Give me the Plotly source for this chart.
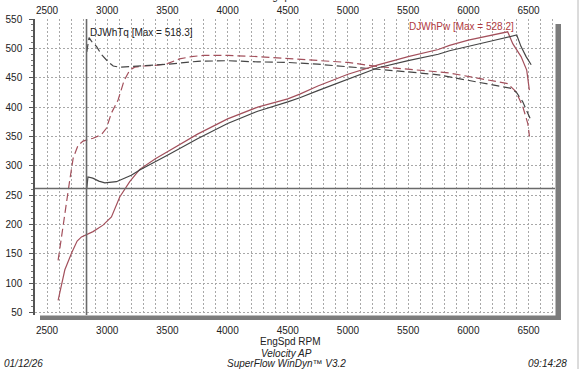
import plotly.graph_objects as go

# ---------------- data ----------------
rpm_tq_dark = [2830, 2849, 2870, 2912, 2950, 3008, 3050, 3100, 3200, 3350, 3500, 3750, 4000, 4250,
               4500, 4750, 5000, 5250, 5500, 5750, 6000, 6200, 6355, 6400, 6452, 6513]
tq_dark = [494, 518.3, 512, 503, 490, 477, 470, 468, 469, 471, 473, 478, 479, 477,
           476, 473, 469, 465, 460, 455, 446, 438, 432, 425, 409, 381]

rpm_tq_red = [2592, 2648, 2689, 2717, 2758, 2799, 2882, 2952, 2993, 3035, 3090, 3140, 3187, 3228,
              3300, 3400, 3500, 3600, 3700, 3800, 4000, 4250, 4500, 4750, 5000, 5250, 5500, 5750,
              5844, 6000, 6200, 6327, 6397, 6452, 6494, 6508]
tq_red = [139, 222, 276, 313, 335, 342, 347, 353, 364, 390, 412, 445, 463, 468,
          470, 471, 474, 482, 486, 488, 488, 486, 483, 480, 476, 469, 465, 460,
          458, 452, 445, 440, 426, 401, 372, 350]

rpm_pw_dark = [2830, 2840, 2880, 2930, 2980, 3076, 3200, 3270, 3500, 3750, 4000, 4250, 4500, 4600,
               4750, 5000, 5250, 5500, 5750, 5844, 6000, 6200, 6402, 6438, 6480, 6522]
pw_dark = [262, 281, 279, 274, 271, 273, 284, 293, 318, 346, 372, 393, 409, 416,
           428, 447, 467, 479, 490, 496, 503, 513, 522.8, 503, 486, 472]

rpm_pw_red = [2592, 2648, 2703, 2750, 2786, 2882, 2965, 3035, 3104, 3187, 3270, 3400, 3500, 3750,
              4000, 4250, 4500, 4600, 4750, 5000, 5250, 5500, 5750, 5844, 6000, 6200, 6327,
              6369, 6438, 6485, 6507]
pw_red = [71, 123, 151, 172, 179, 188, 199, 213, 247, 273, 294, 312, 324, 354,
          380, 400, 414, 422, 436, 456, 472, 486, 498, 505, 514, 523, 528.2,
          508, 486, 463, 429]

x_ticks = [2500, 3000, 3500, 4000, 4500, 5000, 5500, 6000, 6500]
y_ticks = [50, 100, 150, 200, 250, 300, 350, 400, 450, 500, 550]
cursor_rpm = 2828
cursor_val = 261.5

# ---------------- figure ----------------
DARK = "#454545"
RED = "#a3505c"
FONT = "Liberation Sans, Arial, sans-serif"

fig = go.Figure()
fig.add_trace(go.Scatter(x=rpm_tq_red, y=tq_red, mode="lines",
                         line=dict(color=RED, width=1.2, dash="8px,4px"), hoverinfo="skip"))
fig.add_trace(go.Scatter(x=rpm_tq_dark, y=tq_dark, mode="lines",
                         line=dict(color=DARK, width=1.2, dash="8px,4px"), hoverinfo="skip"))
fig.add_trace(go.Scatter(x=rpm_pw_red, y=pw_red, mode="lines",
                         line=dict(color=RED, width=1.2), hoverinfo="skip"))
fig.add_trace(go.Scatter(x=rpm_pw_dark, y=pw_dark, mode="lines",
                         line=dict(color=DARK, width=1.2), hoverinfo="skip"))
# invisible trace for top axis
fig.add_trace(go.Scatter(x=[x_ticks[0]], y=[y_ticks[0]], xaxis="x2", mode="markers",
                         marker=dict(opacity=0), hoverinfo="skip"))

# cursor lines
fig.add_vline(x=cursor_rpm, line=dict(color="#6a6a6a", width=1.6))
fig.add_hline(y=cursor_val, line=dict(color="#6a6a6a", width=1.6))

L, R, T, B = 35, 25, 19, 54
W, H = 580, 369
PW, PH = W - L - R, H - T - B


def px(xp):
    return (xp - L) / PW


def py(yp):
    return (H - B - yp) / PH


# drop shadow (right + bottom)
fig.add_shape(type="rect", xref="paper", yref="paper", x0=px(555.5), x1=px(561), y0=py(320), y1=py(24),
              fillcolor="#7c7c7c", line_width=0, layer="below")
fig.add_shape(type="rect", xref="paper", yref="paper", x0=px(40), x1=px(561), y0=py(320), y1=py(315.5),
              fillcolor="#7c7c7c", line_width=0, layer="below")
# window border at right
fig.add_shape(type="line", xref="paper", yref="paper", x0=px(578), x1=px(578), y0=py(369), y1=py(0),
              line=dict(color="#b8b8b8", width=1))

ann_font = dict(family=FONT, size=10, color="#222")
it_font = dict(family=FONT, size=10, color="#222", style="italic")
fig.add_annotation(text="DJWhTq [Max = 518.3]", xref="paper", yref="paper", x=px(88), y=py(32.5),
                   xanchor="left", yanchor="middle", showarrow=False, font=ann_font)
fig.add_annotation(text="DJWhPw [Max = 528.2]", xref="paper", yref="paper", x=px(407), y=py(26.5),
                   xanchor="left", yanchor="middle", showarrow=False,
                   font=dict(family=FONT, size=10, color="#b03a3f"))
fig.add_annotation(text="EngSpd RPM", xref="paper", yref="paper", x=px(290), y=py(341),
                   xanchor="center", yanchor="middle", showarrow=False, font=ann_font)
fig.add_annotation(text="EngSpd RPM", xref="paper", yref="paper", x=px(290), y=py(-3),
                   xanchor="center", yanchor="middle", showarrow=False, font=ann_font)
fig.add_annotation(text="Velocity AP", xref="paper", yref="paper", x=px(286), y=py(353.5),
                   xanchor="center", yanchor="middle", showarrow=False, font=it_font)
fig.add_annotation(text="SuperFlow WinDyn™ V3.2", xref="paper", yref="paper", x=px(286), y=py(363.5),
                   xanchor="center", yanchor="middle", showarrow=False, font=it_font)
fig.add_annotation(text="01/12/26", xref="paper", yref="paper", x=px(2), y=py(363.5),
                   xanchor="left", yanchor="middle", showarrow=False, font=it_font)
fig.add_annotation(text="09:14:28", xref="paper", yref="paper", x=px(569), y=py(363.5),
                   xanchor="right", yanchor="middle", showarrow=False, font=it_font)

grid_common = dict(gridcolor="#a8a8a8", gridwidth=1, griddash="2px,2px")
fig.update_layout(
    width=W, height=H, margin=dict(l=L, r=R, t=T, b=B, autoexpand=False),
    paper_bgcolor="white", plot_bgcolor="white", showlegend=False,
    font=dict(family=FONT, size=10, color="#222"),
    xaxis=dict(range=[2400, 6720], tickvals=x_ticks, ticks="", showline=False, zeroline=False,
               automargin=False, showgrid=True, **grid_common, ticklabelstandoff=8,
               minor=dict(dtick=100, tick0=2400, showgrid=True, gridcolor="#a8a8a8", griddash="2px,2px")),
    xaxis2=dict(range=[2400, 6720], tickvals=x_ticks, overlaying="x", side="top", ticks="",
                automargin=False, showgrid=False, zeroline=False, showline=False, ticklabelstandoff=2),
    yaxis=dict(range=[46, 550], tickvals=y_ticks, ticks="outside", ticklen=4, tickcolor="#555",
               automargin=False, showline=True, linecolor="#555", linewidth=1.5, zeroline=False,
               showgrid=True, gridcolor="#a8a8a8", gridwidth=1, griddash="2px,2px",
               minor=dict(dtick=10, tick0=50, ticks="outside", ticklen=2, tickcolor="#777", showgrid=False),
               ticklabelstandoff=5),
)

# remove the browser's default 8px body margin so the figure sits at the page corner
fig.write_html("out.html", config={"displayModeBar": False},
               post_script="document.body.style.margin='0';document.body.style.overflow='hidden';")
